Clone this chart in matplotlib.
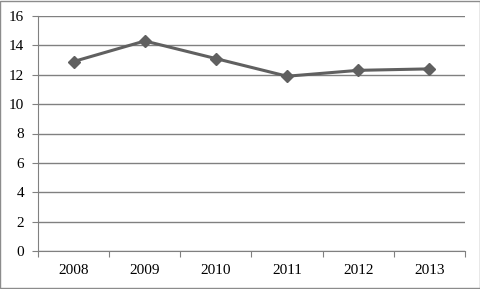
import numpy as np
import matplotlib
matplotlib.use("Agg")
import matplotlib.pyplot as plt

years = ["2008", "2009", "2010", "2011", "2012", "2013"]
values = [12.9, 14.3, 13.1, 11.9, 12.3, 12.4]

plt.rcParams["font.family"] = ["Liberation Serif", "DejaVu Serif"]

fig = plt.figure(figsize=(4.81, 2.89), dpi=100)
ax = fig.add_axes([38 / 481, 1 - 251 / 289, 427 / 481, 235 / 289])

x = np.arange(len(years))
ax.plot(x, values, color="#606060", linewidth=2.2, marker="D", markersize=6.5)

ax.set_xlim(-0.5, len(years) - 0.5)
ax.set_ylim(0, 16)
ax.set_yticks(range(0, 17, 2))
ax.yaxis.grid(True, color="#808080", linewidth=1)
ax.set_axisbelow(True)

# category labels centred, tick marks on the boundaries
ax.set_xticks(np.arange(-0.5, len(years) + 0.5, 1))
ax.set_xticklabels([])
ax.set_xticks(x, minor=True)
ax.set_xticklabels(years, minor=True)
ax.tick_params(axis="x", which="major", length=4, direction="out", color="#808080")
ax.tick_params(axis="x", which="minor", length=0, pad=9, labelsize=11)
ax.tick_params(axis="y", length=4, direction="out", color="#808080", labelsize=11, pad=6)

for side in ["top", "right"]:
    ax.spines[side].set_visible(False)
ax.spines["left"].set_color("#808080")
ax.spines["bottom"].set_color("#808080")

# outer border of the chart area
fig.patches.append(plt.Rectangle((0.001, 0.002), 0.997, 0.995, transform=fig.transFigure,
                                 fill=False, edgecolor="#8c8c8c", linewidth=1))

fig.savefig("out.png", dpi=100)
